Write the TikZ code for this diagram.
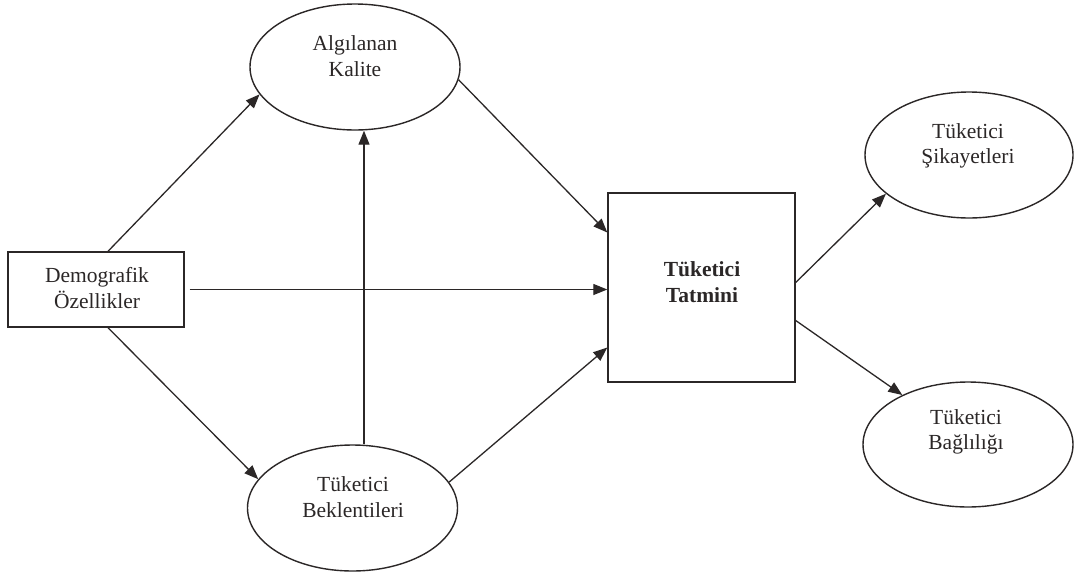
\documentclass[tikz,border=0pt]{standalone}
\usepackage{fontspec}
\setmainfont{Liberation Serif}
\usetikzlibrary{shapes.geometric,arrows.meta}
\definecolor{ink}{HTML}{2B2727}
\begin{document}
\begin{tikzpicture}[x=1pt,y=-1pt,
  every node/.style={text=ink},
  txt/.style={font=\fontsize{21.5}{25.5}\selectfont, align=center, inner sep=0pt},
  oval/.style={ellipse, draw=ink, line width=1.4pt, minimum width=210pt, minimum height=126pt, inner sep=0pt},
  boxnode/.style={rectangle, draw=ink, line width=1.4pt, inner sep=0pt},
  arr/.style={draw=ink, line width=1.3pt, -{Triangle[length=14pt,width=11pt]}}]
  \useasboundingbox[fill=white] (0,0) rectangle (1076,576);

  % boxes
  \node[boxnode, minimum width=176pt, minimum height=75pt] (dem) at (96,289.5) {};
  \node[txt] (demt) at (97,288) {Demografik\\Özellikler};
  \node[boxnode, minimum width=187pt, minimum height=189pt] (tat) at (701.5,287.5) {};
  \node[txt, font=\fontsize{21.5}{25.5}\selectfont\bfseries] (tatt) at (702,282) {Tüketici\\Tatmini};

  % ovals
  \node[oval] (kal) at (355,67) {};
  \node[txt] (kalt) at (355,56) {Algılanan\\Kalite};
  \node[oval] (bek) at (352.5,508) {};
  \node[txt] (bekt) at (353,497) {Tüketici\\Beklentileri};
  \node[oval, minimum width=208pt] (sik) at (969,155) {};
  \node[txt] (sikt) at (968,146) {Tüketici\\Şikayetleri};
  \node[oval, minimum height=125pt] (bag) at (968,444.5) {};
  \node[txt] (bagt) at (966,432) {Tüketici\\Bağlılığı};

  % vertical link position
  \coordinate (vx) at (364,300);

  % connectors
  \draw[arr] ([xshift=12pt]dem.north) -- (kal.196);
  \draw[arr] ([xshift=12pt]dem.south) -- (bek.163);
  \draw[arr, shorten <=5pt] (dem.east) -- (dem.east -| tat.west);
  \draw[arr] (vx |- bek.north) -- (vx |- kal.south);
  \draw[arr] (kal.353) -- ([yshift=55pt]tat.west);
  \draw[arr] (bek.15) -- ([yshift=-60pt]tat.west);
  \draw[arr] ([yshift=5pt]tat.east) -- (sik.205);
  \draw[arr] ([yshift=-33pt]tat.east) -- (bag.143);
\end{tikzpicture}
\end{document}
